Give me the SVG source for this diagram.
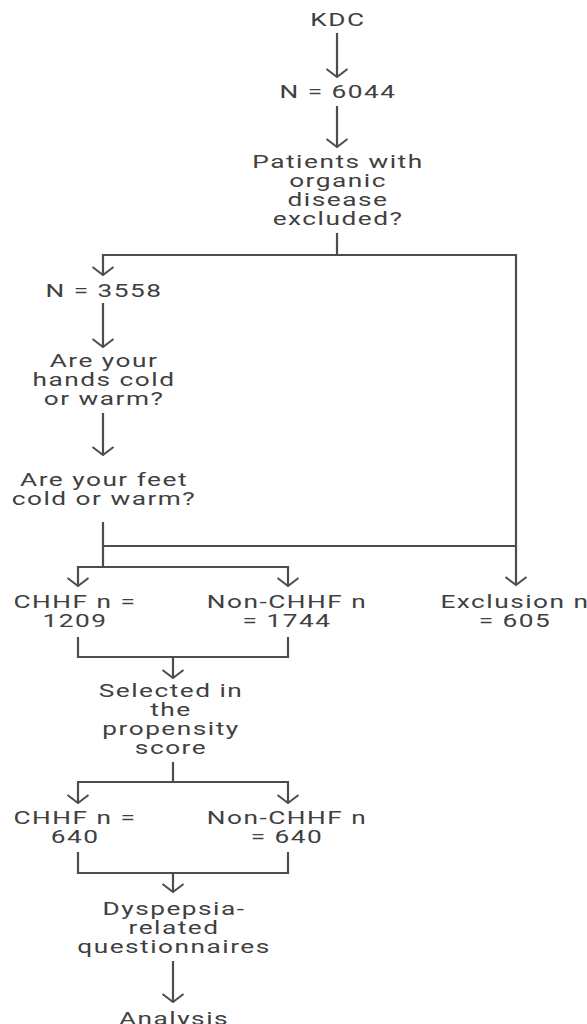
<svg xmlns="http://www.w3.org/2000/svg" width="587" height="1024" viewBox="0 0 587 1024">
<style>
text{font-family:Roboto,"Liberation Sans",sans-serif;font-size:17.5px;fill:#404040;text-anchor:middle;letter-spacing:1px}
.c{fill:none;stroke:#4d4d4d;stroke-width:2.2}
</style>
<defs>
<marker id="ah" markerWidth="24" markerHeight="24" viewBox="-12 -12 24 24" refX="0" refY="0" orient="auto" markerUnits="userSpaceOnUse" overflow="visible">
<path d="M-8,-10.5 L0,0 L-8,10.5" fill="none" stroke="#4d4d4d" stroke-width="2"/>
</marker>
</defs>
<rect width="587" height="1024" fill="#fff"/>
<g id="connectors">
<path class="c" d="M337,33 V77" marker-end="url(#ah)"/>
<path class="c" d="M337,106 V147" marker-end="url(#ah)"/>
<path class="c" d="M337,233 V255 M103,255 H516"/>
<path class="c" d="M103,254 V275" marker-end="url(#ah)"/>
<path class="c" d="M516,254 V585" marker-end="url(#ah)"/>
<path class="c" d="M103,303 V347" marker-end="url(#ah)"/>
<path class="c" d="M103,413 V455" marker-end="url(#ah)"/>
<path class="c" d="M103,522 V567 M103,546 H516 M78,567 H288"/>
<path class="c" d="M78,566 V586" marker-end="url(#ah)"/>
<path class="c" d="M288,566 V586" marker-end="url(#ah)"/>
<path class="c" d="M78,637 V657 H288 V637"/>
<path class="c" d="M173,657 V678" marker-end="url(#ah)"/>
<path class="c" d="M173,762 V782 M78,782 H288"/>
<path class="c" d="M78,781 V803" marker-end="url(#ah)"/>
<path class="c" d="M288,781 V803" marker-end="url(#ah)"/>
<path class="c" d="M78,852 V873 H288 V852"/>
<path class="c" d="M173,873 V892" marker-end="url(#ah)"/>
<path class="c" d="M173,961 V1002" marker-end="url(#ah)"/>
</g>
<g id="n1" transform="translate(338 0) scale(1.5 1)"><text x="0" y="26">KDC</text></g>
<g id="n2" transform="translate(338 0) scale(1.5 1)"><text x="0" y="98">N = 6044</text></g>
<g id="n3" transform="translate(338 0) scale(1.5 1)"><text x="0" y="168.5">Patients with</text><text x="0" y="187.5">organic</text><text x="0" y="206.5">disease</text><text x="0" y="225.5">excluded?</text></g>
<g id="n4" transform="translate(104 0) scale(1.5 1)"><text x="0" y="297">N = 3558</text></g>
<g id="n5" transform="translate(104 0) scale(1.5 1)"><text x="0" y="367">Are your</text><text x="0" y="386">hands cold</text><text x="0" y="405">or warm?</text></g>
<g id="n6" transform="translate(104 0) scale(1.5 1)"><text x="0" y="486">Are your feet</text><text x="0" y="505.5">cold or warm?</text></g>
<g id="n7" transform="translate(75 0) scale(1.5 1)"><text x="0" y="608">CHHF n =</text><text x="0" y="627">1209</text></g>
<g id="n8" transform="translate(287 0) scale(1.5 1)"><text x="0" y="608">Non-CHHF n</text><text x="0" y="627">= 1744</text></g>
<g id="n9" transform="translate(515 0) scale(1.5 1)"><text x="0" y="608">Exclusion n</text><text x="0" y="627">= 605</text></g>
<g id="n10" transform="translate(171 0) scale(1.5 1)"><text x="0" y="697">Selected in</text><text x="0" y="716">the</text><text x="0" y="735">propensity</text><text x="0" y="754">score</text></g>
<g id="n11" transform="translate(75 0) scale(1.5 1)"><text x="0" y="824">CHHF n =</text><text x="0" y="843">640</text></g>
<g id="n12" transform="translate(287 0) scale(1.5 1)"><text x="0" y="824">Non-CHHF n</text><text x="0" y="843">= 640</text></g>
<g id="n13" transform="translate(174 0) scale(1.5 1)"><text x="0" y="915">Dyspepsia-</text><text x="0" y="934">related</text><text x="0" y="953">questionnaires</text></g>
<g id="n14" transform="translate(174 0) scale(1.5 1)"><text x="0" y="1025">Analysis</text></g>
</svg>
